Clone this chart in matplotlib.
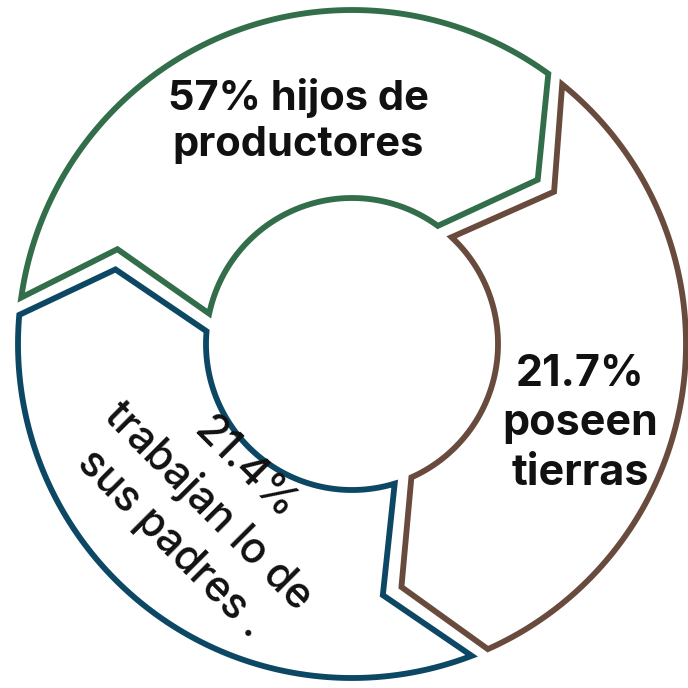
import numpy as np
import matplotlib
matplotlib.use('Agg')
import matplotlib.pyplot as plt
from matplotlib.patches import Polygon

# data
percents = ['57%', '21.7%', '21.4%']
labels = ['hijos de\nproductores', 'poseen\ntierras', 'trabajan lo de\nsus padres .']
colors = ['#336e4b', '#694b3e', '#0c4864']

# ring layout (pixel space, y down)
cx, cy = 352, 344
R_out, R_in = 334, 146
tails = [172, 51, -69]      # clockwise start of each arrow (deg)
heads = [54, -66, -185]     # clockwise end (arrow tip side)


def pt(ang, r):
    a = np.radians(ang)
    return cx + r * np.cos(a), cy - r * np.sin(a)


def arrow_poly(t, h):
    pts = []
    for a in np.linspace(t, h, 120):
        pts.append(pt(a, R_out))
    pts.append(pt(h - 12.5, 248))           # arrow tip
    for a in np.linspace(h, t - 4, 80):
        pts.append(pt(a, R_in))
    pts.append(pt(t - 14, 253))             # notch
    return pts


fig = plt.figure(figsize=(6.88, 6.88), dpi=100)
ax = fig.add_axes([0, 0, 1, 1])
ax.set_xlim(0, 688)
ax.set_ylim(688, 0)
ax.axis('off')

for t, h, c in zip(tails, heads, colors):
    ax.add_patch(Polygon(arrow_poly(t, h), closed=True, facecolor='white',
                         edgecolor=c, lw=4.2, joinstyle='miter'))

font = ['Inter', 'DejaVu Sans']
ax.text(298, 121, percents[0] + ' ' + labels[0], ha='center', va='center',
        fontsize=30, fontweight='bold', family=font, color='#111111',
        linespacing=1.25)
ax.text(580, 424, percents[1] + '\n' + labels[1], ha='center', va='center',
        fontsize=31, fontweight='bold', family=font, color='#111111',
        linespacing=1.28)
ax.text(208, 506, percents[2] + '\n' + labels[2], ha='center', va='center',
        fontsize=30.5, fontweight='medium', family=font, color='#111111',
        rotation=-45, rotation_mode='anchor', linespacing=1.35)

fig.savefig('out.png', dpi=100)
